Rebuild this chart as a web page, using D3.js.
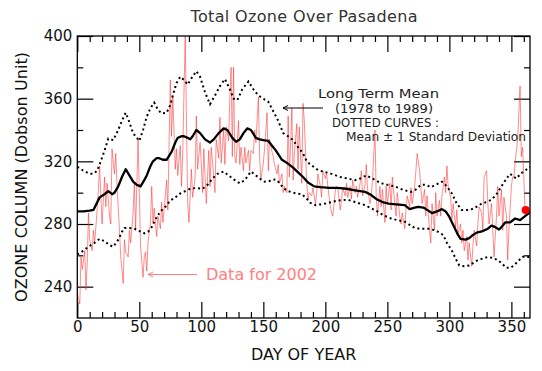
<!DOCTYPE html>
<html>
<head>
<meta charset="utf-8">
<script src="https://cdn.jsdelivr.net/npm/d3@7/dist/d3.min.js"></script>
<style>
  body { margin: 0; background: #fff; }
  svg text { font-family: "DejaVu Sans", sans-serif; }
</style>
</head>
<body>
<div id="chart"></div>
<script>
'use strict';

// daily total ozone, 2002
var ozoneDays = [
  0,2,3,4,6,7,8,9,10,12, 13,14,16,17,18,19,20,22,23,24, 26,27,28,30,31,32,34,35,37,38,
  39,41,42,43,45,46,47,49,50,51, 53,54,55,56,57,59,60,61,62,64, 65,67,68,69,71,72,73,75,76,77,
  79,80,81,83,84,85,87,89,90,92, 93,95,96,97,99,100,101,102,104,106, 107,108,110,111,112,114,115,116,118,119,
  120,122,123,124,125,126,127,128,130,131, 132,134,135,136,138,139,140,142,143,144, 146,147,148,150,151,153,154,155,157,158,
  159,161,162,163,165,166,167,169,170,171, 173,174,175,177,178,179,181,182,183,185, 186,187,189,190,192,193,194,196,197,198,
  200,201,202,204,205,206,208,209,210,212, 213,214,216,217,218,220,221,222,224,225, 226,228,229,230,232,233,234,236,237,238,
  240,241,242,244,245,246,248,249,250,252, 253,254,256,257,258,260,261,262,264,265, 266,268,269,270,272,273,274,276,277,278,
  280,281,282,284,285,286,288,289,290,292, 293,294,296,297,298,299,301,302,303,305, 306,307,309,310,311,312,314,315,316,318,
  319,320,322,323,324,326,327,328,330,331, 332,334,335,336,338,339,340,342,343,344, 346,347,348,350,351,352,353,355,357,358,
  359,360,361
];
var ozone2002 = [
  236,229,259,251,263,238,255,287,270,263, 276,268,289,302,317,297,280,310,291,306, 285,280,328,312,325,305,276,259,242,270,
  262,259,276,268,287,306,276,334,300,266, 246,259,262,250,268,281,304,281,290,272, 285,277,294,281,298,308,289,372,336,362,
  315,328,311,330,304,326,400,294,281,315, 297,310,349,315,332,318,300,328,293,327, 304,329,310,300,334,322,348,319,340,318,
  342,333,361,380,323,380,323,319,346,318, 329,314,329,319,327,314,327,325,340,332, 361,323,308,319,328,351,314,334,326,323,
  318,312,318,306,312,300,304,300,349,310, 354,308,325,344,315,342,306,357,346,306, 295,300,298,303,293,300,312,304,297,314,
  309,312,304,291,287,285,301,304,303,289, 295,303,298,306,297,304,296,308,300,304, 297,306,314,298,305,318,302,293,298,308,
  340,298,285,304,291,302,281,304,293,306, 289,310,293,285,300,285,280,287,277,289, 298,291,303,293,304,314,325,314,304,293,
  302,285,298,276,268,293,276,300,285,295, 285,298,310,300,317,304,297,283,293,278, 289,274,280,268,276,263,272,257,268,253,
  266,276,266,280,291,287,276,310,314,293, 280,293,276,259,285,304,285,302,276,297, 285,257,276,304,310,310,319,334,368,323,
  329,310,289
];
var latestObs = [[361.5, 289]];

// long term mean 1978-1989
var meanDays = [
  0,5,10,13,18,22,25,28,30,33, 36,39,42,45,48,51,54,56,59,61, 64,66,69,72,76,79,81,84,86,89,
  91,93,96,99,103,107,110,114,118,121, 125,128,131,134,137,140,144,147,150,154, 157,160,165,169,174,178,182,186,191,196,
  203,210,217,224,228,232,236,241,246,251, 257,264,268,272,275,279,282,286,290,294, 297,300,304,307,309,313,316,319,322,327,
  331,334,337,340,342,345,349,353,357,361, 365
];
var meanValues = [
  288,288,288.5,289,297,299,301,299,300,304, 310,315,311,307,305,304,308,311,317,320, 322,322,321,321,326,332,335,336,336,335,
  334,336,340,338,334,332,334,338,341,340, 335,332.5,334,338,341,340,335,334,333.5,333, 330,327,321,319,316,313,310,306.5,304,303.5,
  303,303,302.5,301.5,301,300.5,299,296,294,293, 292.5,292,289.5,290.5,291,290.5,289,287,288,289.5, 288,284.5,278,273,270.5,270,271,273,274.5,275.5,
  277,279,278,276.5,278,281,281,283.5,282.5,285, 287.5
];

// mean + 1 sd
var upperDays = [
  0,5,10,13,16,18,22,25,29,33, 36,39,42,45,50,53,56,59,62,65, 68,72,75,77,80,83,86,89,92,96,
  99,103,107,111,115,119,123,126,129,133, 138,142,146,150,154,158,161,164,166,170, 174,178,182,185,188,194,200,205,212,218,
  224,228,233,238,245,250,256,262,269,273, 277,281,285,289,294,298,302,306,310,316, 320,326,330,334,338,342,346,349,352,354,
  358,361,365
];
var upperValues = [
  316.5,314,312,312,314,318,327,334.5,333.5,340, 346,351,345,338,333,340,348.5,354,357.5,353, 350.5,351,356,362,370,374,372,369,373,377.5,
  374,364,356.5,362,368,372.5,366,360,359,366, 371,366,362,360,358,352,347.5,342,338,336, 333.5,329,325,320,318,314.5,313,312,310,309,
  308,309,311,309,306,305,304,302,300.5,302, 305,305,303.5,305,307,304,299.5,293,289,289, 290,293,294,295.5,299,304,309,312,310,309,
  312.5,314,316.5
];

// mean - 1 sd
var lowerDays = [
  0,4,9,14,18,22,26,29,33,36, 38,42,46,50,54,57,60,63,67,71, 75,79,83,87,91,96,101,105,109,113,
  118,122,126,131,135,140,144,148,151,155, 158,161,164,167,170,174,177,181,184,188, 192,196,200,205,210,218,224,228,232,237,
  242,247,253,258,264,268,272,276,280,284, 288,291,295,298,302,305,308,312,316,320, 323,327,331,334,339,342,346,349,352,355,
  359,362,365
];
var lowerValues = [
  260.5,262.5,265.5,268,270.5,269,266.5,265.5,270,275, 277.5,277.5,277,275.5,274,275,278,283,288,291, 295,297,299.5,301,302.5,303,302.5,305,309,312,
  313.5,311,308.5,306,308,313.5,311,308.5,307,307.5, 308.5,308,305,302.5,301,300,299.5,299,297,293.5, 292,292.5,293,294,295,295.5,294,293,292,290,
  288,285.5,283.5,282.5,281.5,279.5,277.5,277,277,277, 276,275,273,268,263,258,253.5,253,253.5,255.5, 257,258,259,258.5,257,255,252,252,253.5,256,
  259,259.5,258.5
];

var xMajorTicks = [0, 50, 100, 150, 200, 250, 300, 350];
var xMinorTicks = [10,20,30,40,60,70,80,90,110,120,130,140,160,170,180,190,210,220,230,240,260,270,280,290,310,320,330,340,360];
var yMajorTicks = [240, 280, 320, 360, 400];
var yMinorTicks = [260, 300, 340, 380];

var width = 542,
    height = 371;
var margin = {top: 36, right: 12, bottom: 53, left: 77.3},
    chartWidth = width - margin.left - margin.right,
    chartHeight = height - margin.top - margin.bottom;

var svg = d3.select('#chart').append('svg')
  .attr('width', width)
  .attr('height', height);

var chart = svg.append('g')
  .attr('transform', 'translate(' + margin.left + ',' + margin.top + ')');

var x = d3.scaleLinear().domain([0, 365]).range([0, chartWidth]);
var y = d3.scaleLinear().domain([220, 400]).range([chartHeight, 0]);

svg.append('defs').append('clipPath').attr('id', 'plotclip')
  .append('rect').attr('width', chartWidth).attr('height', chartHeight);

// ticks on all four sides, pointing inward
function styleAxis(g) {
  g.select('.domain').remove();
  g.selectAll('line').attr('stroke', '#000').attr('stroke-width', 1.2);
  g.selectAll('text')
    .attr('font-family', '"DejaVu Sans", sans-serif')
    .attr('font-size', 15)
    .attr('fill', '#111');
}

chart.append('g')
  .call(d3.axisLeft(y).tickValues(yMajorTicks).tickSize(-16).tickPadding(5).tickFormat(d3.format('d')))
  .call(styleAxis);
chart.append('g')
  .call(d3.axisLeft(y).tickValues(yMinorTicks).tickSize(-6).tickFormat(''))
  .call(styleAxis);
chart.append('g')
  .attr('transform', 'translate(' + chartWidth + ',0)')
  .call(d3.axisRight(y).tickValues(yMajorTicks).tickSize(-16).tickFormat(''))
  .call(styleAxis);
chart.append('g')
  .attr('transform', 'translate(' + chartWidth + ',0)')
  .call(d3.axisRight(y).tickValues(yMinorTicks).tickSize(-6).tickFormat(''))
  .call(styleAxis);

chart.append('g')
  .attr('transform', 'translate(0,' + chartHeight + ')')
  .call(d3.axisBottom(x).tickValues(xMajorTicks).tickSize(-16).tickPadding(3).tickFormat(d3.format('d')))
  .call(styleAxis);
chart.append('g')
  .attr('transform', 'translate(0,' + chartHeight + ')')
  .call(d3.axisBottom(x).tickValues(xMinorTicks).tickSize(-6).tickFormat(''))
  .call(styleAxis);
chart.append('g')
  .call(d3.axisTop(x).tickValues(xMajorTicks).tickSize(-16).tickFormat(''))
  .call(styleAxis);
chart.append('g')
  .call(d3.axisTop(x).tickValues(xMinorTicks).tickSize(-6).tickFormat(''))
  .call(styleAxis);

var plot = chart.append('g').attr('clip-path', 'url(#plotclip)');

function pairs(days, vals) {
  return days.map(function(d, i) { return [d, vals[i]]; });
}

var line = d3.line()
  .x(function(d) { return x(d[0]); })
  .y(function(d) { return y(d[1]); });

// 2002 data
plot.append('path')
  .datum(pairs(ozoneDays, ozone2002))
  .attr('fill', 'none')
  .attr('stroke', '#ff3030')
  .attr('stroke-width', 0.7)
  .attr('stroke-opacity', 0.8)
  .attr('d', line);

// +/- 1 sd
[pairs(upperDays, upperValues), pairs(lowerDays, lowerValues)].forEach(function(s) {
  plot.append('path')
    .datum(s)
    .attr('fill', 'none')
    .attr('stroke', '#000')
    .attr('stroke-width', 2)
    .attr('stroke-dasharray', '2,3')
    .attr('d', line);
});

// long term mean
plot.append('path')
  .datum(pairs(meanDays, meanValues))
  .attr('fill', 'none')
  .attr('stroke', '#000')
  .attr('stroke-width', 2.3)
  .attr('stroke-linejoin', 'round')
  .attr('d', line);

chart.selectAll('.latest')
  .data(latestObs)
  .enter().append('circle')
  .attr('class', 'latest')
  .attr('cx', function(d) { return x(d[0]); })
  .attr('cy', function(d) { return y(d[1]); })
  .attr('r', 4)
  .attr('fill', '#ff0000');

// frame
chart.append('rect')
  .attr('width', chartWidth)
  .attr('height', chartHeight)
  .attr('fill', 'none')
  .attr('stroke', '#000')
  .attr('stroke-width', 1.3);

// titles
svg.append('text')
  .attr('x', 304).attr('y', 22)
  .attr('text-anchor', 'middle')
  .attr('font-size', 16)
  .attr('fill', '#333')
  .attr('textLength', 227)
  .text('Total Ozone Over Pasadena');

svg.append('text')
  .attr('x', margin.left + chartWidth / 2).attr('y', 360)
  .attr('text-anchor', 'middle')
  .attr('font-size', 16)
  .attr('fill', '#111')
  .text('DAY OF YEAR');

svg.append('text')
  .attr('transform', 'translate(27,177) rotate(-90)')
  .attr('text-anchor', 'middle')
  .attr('font-size', 16)
  .attr('fill', '#111')
  .attr('textLength', 250)
  .text('OZONE COLUMN (Dobson Unit)');

// annotations
var notes = [
  {t: 'Long Term Mean', x: 318, y: 97.5, w: 121},
  {t: '(1978 to 1989)', x: 335, y: 112.5, w: 98},
  {t: 'DOTTED CURVES :', x: 332, y: 126.5, w: 107},
  {t: 'Mean \u00b1 1 Standard Deviation', x: 346, y: 140.5, w: 180}
];
notes.forEach(function(n) {
  svg.append('text')
    .attr('x', n.x).attr('y', n.y)
    .attr('font-size', 12.5)
    .attr('fill', '#222')
    .attr('textLength', n.w)
    .attr('lengthAdjust', 'spacingAndGlyphs')
    .text(n.t);
});

function arrow(x1, x2, yy, color) {
  svg.append('line')
    .attr('x1', x1).attr('x2', x2).attr('y1', yy).attr('y2', yy)
    .attr('stroke', color).attr('stroke-width', 1);
  svg.append('path')
    .attr('d', 'M' + (x1 + 5) + ',' + (yy - 2.5) + 'L' + x1 + ',' + yy + 'L' + (x1 + 5) + ',' + (yy + 2.5))
    .attr('fill', 'none').attr('stroke', color).attr('stroke-width', 1);
}
arrow(283, 323, 108, '#000');
arrow(148, 197, 274.5, '#ff8080');

svg.append('text')
  .attr('x', 206).attr('y', 280)
  .attr('font-size', 16)
  .attr('fill', '#ff8080')
  .attr('textLength', 111)
  .text('Data for 2002');
</script>
</body>
</html>
